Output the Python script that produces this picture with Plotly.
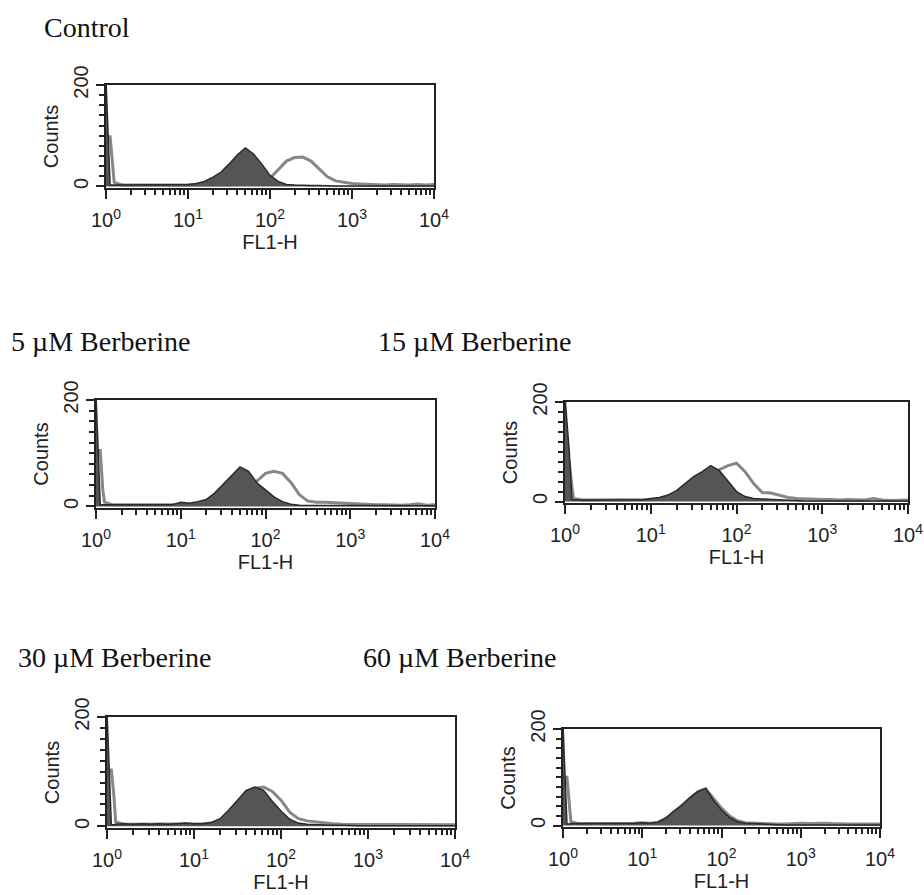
import plotly.graph_objects as go

W, H = 924, 895

# ---------------- data ----------------
# log10(FL1-H) positions of the histogram channels
exponents = [0.0, 0.05, 0.08, 0.1, 0.2, 0.3, 0.4, 0.5, 0.6, 0.7, 0.8, 0.9,
             1.0, 1.1, 1.2, 1.3, 1.4, 1.5, 1.6, 1.7, 1.8, 1.9,
             2.0, 2.1, 2.2, 2.3, 2.4, 2.5, 2.6, 2.7, 2.8, 2.9,
             3.0, 3.1, 3.2, 3.3, 3.4, 3.5, 3.6, 3.7, 3.8, 3.9, 4.0]

panel_titles = ["Control", "5 µM Berberine", "15 µM Berberine",
                "30 µM Berberine", "60 µM Berberine"]

control_filled = [210, 3, 3, 3, 3, 3, 3, 3, 3, 3, 3, 3,
                  4, 6, 10, 18, 28, 44, 62, 76, 64, 44,
                  22, 10, 4, 3, 2, 2, 2, 1, 1, 1,
                  1, 1, 1, 1, 1, 1, 1, 1, 1, 1, 1]
control_open = [98, 98, 45, 8, 3, 3, 2, 3, 2, 3, 2, 3,
                3, 3, 3, 3, 3, 3, 4, 4, 5, 8,
                16, 33, 50, 57, 58, 50, 34, 19, 11, 8,
                6, 5, 4, 4, 3, 4, 3, 3, 4, 3, 4]

b5_filled = [210, 3, 3, 3, 3, 3, 3, 3, 3, 3, 3, 3,
             8, 6, 9, 13, 25, 42, 58, 74, 66, 44,
             31, 18, 9, 4, 2, 2, 1, 1, 1, 1,
             1, 1, 1, 1, 1, 1, 1, 1, 1, 1, 1]
b5_open = [105, 105, 32, 8, 3, 3, 3, 2, 3, 3, 2, 3,
           3, 3, 3, 4, 5, 6, 8, 12, 22, 48,
           62, 66, 62, 45, 22, 10, 8, 8, 7, 7,
           6, 4, 3, 3, 3, 2, 2, 3, 5, 2, 3]

b15_filled = [210, 100, 4, 3, 3, 3, 3, 3, 3, 3, 3, 3,
              6, 8, 13, 22, 36, 50, 60, 72, 62, 42,
              20, 10, 6, 5, 4, 3, 2, 2, 1, 1,
              1, 1, 1, 1, 1, 1, 1, 1, 1, 1, 1]
b15_open = [100, 80, 30, 6, 3, 3, 3, 3, 3, 3, 3, 3,
            3, 4, 5, 8, 14, 22, 34, 48, 64, 72,
            77, 60, 36, 18, 17, 12, 8, 6, 5, 4,
            4, 4, 3, 4, 3, 3, 6, 3, 2, 3, 3]

b30_filled = [210, 3, 3, 4, 5, 4, 5, 4, 5, 4, 5, 6,
              5, 5, 7, 14, 30, 48, 66, 72, 66, 46,
              28, 13, 6, 4, 3, 3, 2, 2, 1, 1,
              1, 1, 1, 1, 1, 1, 1, 1, 1, 1, 1]
b30_open = [103, 103, 55, 8, 4, 4, 5, 4, 4, 4, 4, 5,
            5, 5, 6, 10, 24, 42, 60, 70, 72, 64,
            48, 26, 14, 10, 8, 6, 5, 4, 4, 3,
            3, 3, 4, 3, 4, 3, 3, 3, 3, 3, 3]

b60_filled = [210, 3, 3, 4, 4, 4, 4, 4, 4, 4, 4, 5,
              6, 5, 7, 16, 30, 42, 58, 70, 77, 52,
              32, 17, 8, 5, 4, 3, 2, 2, 1, 1,
              1, 1, 1, 1, 1, 1, 1, 1, 1, 1, 1]
b60_open = [100, 100, 45, 8, 4, 4, 4, 4, 4, 4, 4, 5,
            6, 5, 7, 15, 28, 42, 56, 70, 76, 56,
            36, 20, 10, 6, 5, 4, 4, 3, 3, 4,
            5, 4, 5, 5, 4, 3, 3, 3, 3, 3, 3]

x_tick_vals = [1, 10, 100, 1000, 10000]
x_tick_text = ["10<sup>0</sup>", "10<sup>1</sup>", "10<sup>2</sup>",
               "10<sup>3</sup>", "10<sup>4</sup>"]
y_tick_vals = [0, 200]
y_tick_text = ["0", "200"]

filled_series = [control_filled, b5_filled, b15_filled, b30_filled, b60_filled]
open_series = [control_open, b5_open, b15_open, b30_open, b60_open]

# ---------------- layout ----------------
fl1_h = [10 ** e for e in exponents]

# panel boxes in pixels: (left, right, top, bottom)
boxes = [(106, 434, 85, 188), (96, 435, 400, 508), (565, 908, 402, 503),
         (107, 455, 717, 828), (563, 880, 729, 827)]
# title anchors in pixels: (left x, cap-centre y)
title_pos = [(42, 27), (9, 341), (376, 341), (16, 657), (361, 657)]

AX = "#222222"
FILL = "#555555"
EDGE = "#2a2a2a"
OPEN = "#878787"
SANS = "Liberation Sans, Arial, sans-serif"
SERIF = "Liberation Serif, Times New Roman, serif"

fig = go.Figure()
layout = dict(width=W, height=H, autosize=False,
              margin=dict(l=0, r=0, t=0, b=0, pad=0, autoexpand=False),
              paper_bgcolor="white", plot_bgcolor="white",
              showlegend=False, annotations=[])

for i, (title, filled, opn) in enumerate(zip(panel_titles, filled_series, open_series)):
    n = "" if i == 0 else str(i + 1)
    xa, ya = "x" + n, "y" + n
    fig.add_trace(go.Scatter(x=fl1_h, y=opn, mode="lines", xaxis=xa, yaxis=ya,
                             line=dict(color=OPEN, width=3)))
    fig.add_trace(go.Scatter(x=fl1_h, y=filled, mode="lines", xaxis=xa, yaxis=ya,
                             fill="tozeroy", fillcolor=FILL,
                             line=dict(color=EDGE, width=1.5)))
    l, r, t, b = boxes[i]
    layout["xaxis" + n] = dict(
        domain=[l / W, r / W], anchor=ya, type="log", range=[0, 4],
        automargin=False,
        showline=True, linecolor=AX, linewidth=2, mirror=True,
        showgrid=False, zeroline=False,
        tickmode="array", tickvals=x_tick_vals, ticktext=x_tick_text,
        ticks="outside", ticklen=9, tickwidth=2, tickcolor=AX,
        ticklabelstandoff=4,
        minor=dict(ticks="outside", dtick="D1", ticklen=5, tickwidth=2,
                   tickcolor=AX, showgrid=False),
        tickfont=dict(family=SANS, size=20, color=AX),
        title=dict(text="FL1-H", font=dict(family=SANS, size=20, color=AX), standoff=4),
    )
    layout["yaxis" + n] = dict(
        domain=[1 - b / H, 1 - t / H], anchor=xa, range=[-3, 200],
        automargin=False,
        showline=True, linecolor=AX, linewidth=2, mirror=True,
        showgrid=False, zeroline=False,
        tickmode="array", tickvals=y_tick_vals, ticktext=y_tick_text,
        ticks="outside", ticklen=8, tickwidth=2, tickcolor=AX, tickangle=-90,
        minor=dict(ticks="outside", dtick=20, tick0=0, ticklen=5, tickwidth=2,
                   tickcolor=AX, showgrid=False),
        tickfont=dict(family=SANS, size=20, color=AX),
        title=dict(text="Counts", font=dict(family=SANS, size=20, color=AX), standoff=6),
    )
    tx, ty = title_pos[i]
    layout["annotations"].append(dict(
        text=title, xref="paper", yref="paper", x=tx / W, y=1 - ty / H,
        xanchor="left", yanchor="middle", showarrow=False,
        font=dict(family=SERIF, size=28, color="#111111")))

fig.update_layout(**layout)
fig.write_html("out.html",
               config={"displayModeBar": False, "staticPlot": True},
               post_script="document.body.style.margin='0';"
                           "document.body.style.overflow='hidden';")
